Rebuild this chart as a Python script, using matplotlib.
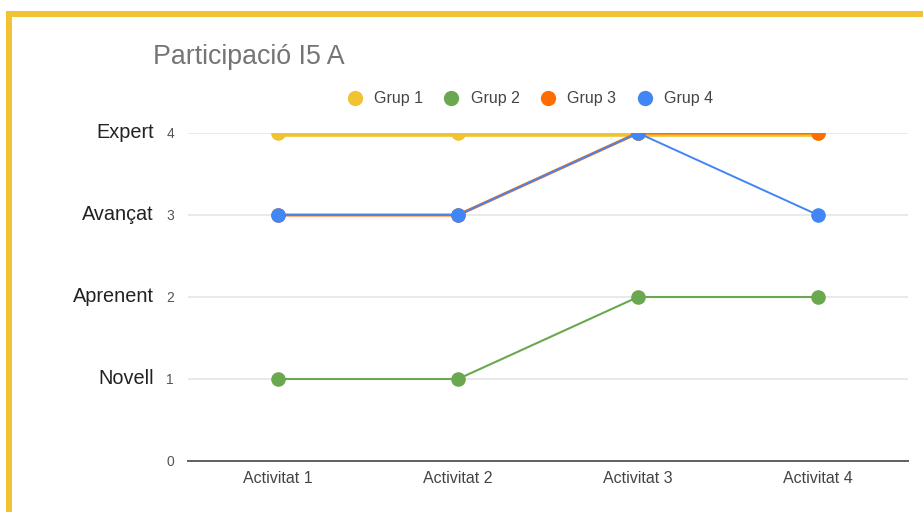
import matplotlib
matplotlib.use('Agg')
import matplotlib.pyplot as plt
import matplotlib.transforms as mtrans
from matplotlib.lines import Line2D

plt.rcParams['font.family'] = ['Liberation Sans', 'DejaVu Sans']

# chart data
activitats = ['Activitat 1', 'Activitat 2', 'Activitat 3', 'Activitat 4']
grup1 = [4, 4, 4, 4]
grup2 = [1, 1, 2, 2]
grup3 = [3, 3, 4, 4]
grup4 = [3, 3, 4, 3]
grups = ['Grup 1', 'Grup 2', 'Grup 3', 'Grup 4']
nivells = ['Novell', 'Aprenent', 'Avançat', 'Expert']
nivellValues = [1, 2, 3, 4]
yTicks = [0, 1, 2, 3, 4]

colors = ['#F1C232', '#6AA84F', '#FF6D01', '#4285F4']
widths = [5.5, 1.5, 2.2, 1.4]

W, H = 923, 512
fig = plt.figure(figsize=(W/100, H/100), dpi=100)
fig.patch.set_facecolor('white')

# axes placed in pixel terms
left, right, top, bottom = 188, 908, 133, 461
ax = fig.add_axes([left/W, 1-bottom/H, (right-left)/W, (bottom-top)/H])

x = list(range(len(activitats)))
allSeries = [grup1, grup2, grup3, grup4]
for i in range(len(allSeries)):
	ax.plot(x, allSeries[i], color=colors[i], lw=widths[i], marker='o',
		markersize=10.5, markeredgewidth=0, solid_capstyle='butt', zorder=3+i)

ax.set_xlim(-0.5, len(activitats)-0.5)
ax.set_ylim(0, 4)
ax.set_xticks(x)
ax.set_xticklabels(activitats, fontsize=11.5, color='#444444')
ax.set_yticks(yTicks)
ax.set_yticklabels([str(v) for v in yTicks], fontsize=10, color='#555555')
ax.tick_params(length=0)
ax.tick_params(axis='x', pad=7)
ax.tick_params(axis='y', pad=10)
for v in yTicks[1:]:
	ax.axhline(v, color='#e3e3e3', lw=1.1, zorder=1)
for s in ['top', 'right', 'left']:
	ax.spines[s].set_visible(False)
ax.spines['bottom'].set_color('#5f5f5f')
ax.spines['bottom'].set_linewidth(1.4)
ax.spines['bottom'].set_zorder(2)

# level names on the left
trans = mtrans.blended_transform_factory(fig.transFigure, ax.transData)
for i in range(len(nivells)):
	ax.text(154/W, nivellValues[i], nivells[i], transform=trans, ha='right', va='center',
		fontsize=14.3, color='#222222')

fig.text(153/W, 1-57/H, 'Participació I5 A', ha='left', va='center', fontsize=19.3, color='#757575')

handles = [Line2D([], [], ls='none', marker='o', markersize=11, markeredgewidth=0, color=c) for c in colors]
fig.legend(handles, grups, loc='center', bbox_to_anchor=(530/W, 1-99/H), ncol=4, frameon=False,
	fontsize=11.5, handlelength=1.0, handletextpad=0.7, columnspacing=1.3, labelcolor='#444444')

# yellow frame (top and left)
fig.add_artist(Line2D([6/W, 1], [1-13.5/H, 1-13.5/H], color='#F1C232', lw=4.3, solid_capstyle='butt'))
fig.add_artist(Line2D([9/W, 9/W], [0, 1-11/H], color='#F1C232', lw=4.3, solid_capstyle='butt'))

fig.savefig('out.png', dpi=100)
